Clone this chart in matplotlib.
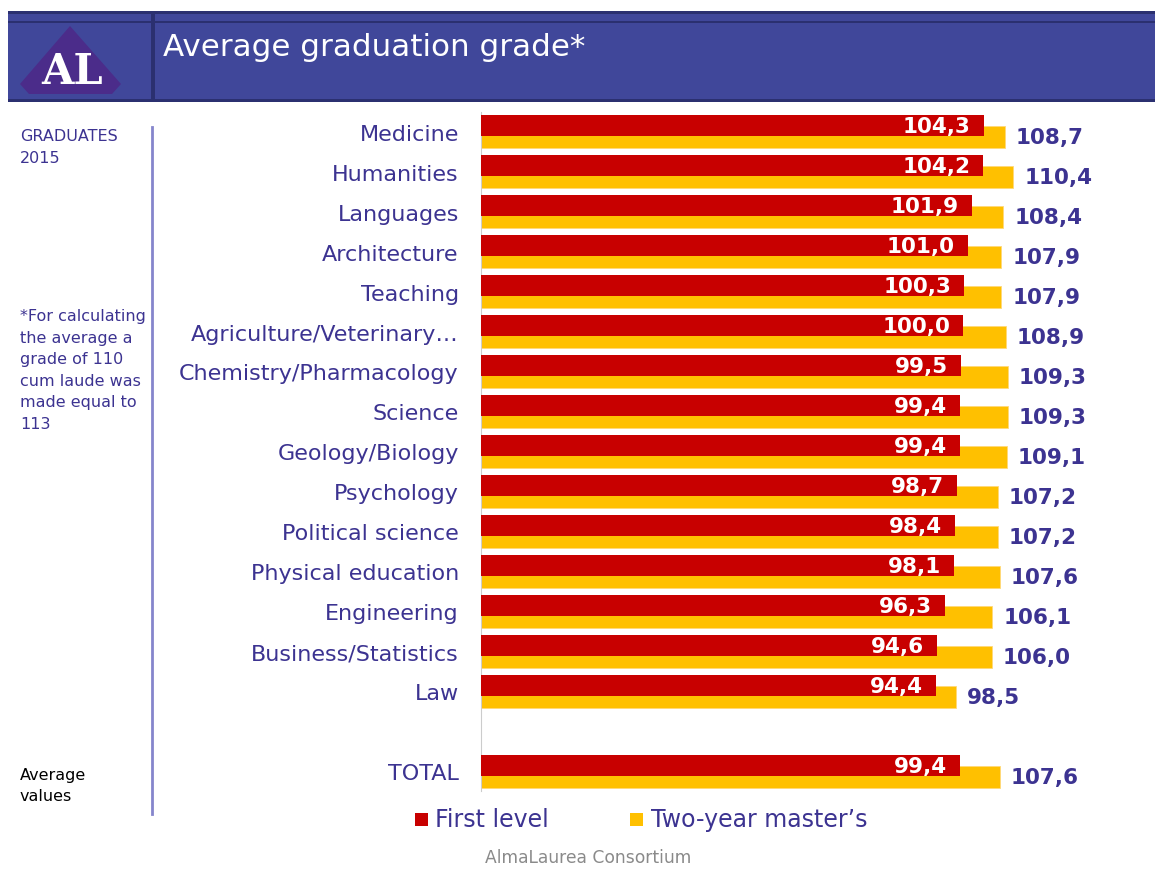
import numpy as np
import matplotlib
matplotlib.use("Agg")
import matplotlib.pyplot as plt
from matplotlib.patches import Rectangle, Polygon

# データ
categories = ["Medicine", "Humanities", "Languages", "Architecture", "Teaching",
              "Agriculture/Veterinary…", "Chemistry/Pharmacology", "Science",
              "Geology/Biology", "Psychology", "Political science",
              "Physical education", "Engineering", "Business/Statistics", "Law",
              "TOTAL"]
first_level = [104.3, 104.2, 101.9, 101.0, 100.3, 100.0, 99.5, 99.4, 99.4,
               98.7, 98.4, 98.1, 96.3, 94.6, 94.4, 99.4]
two_year = [108.7, 110.4, 108.4, 107.9, 107.9, 108.9, 109.3, 109.3, 109.1,
            107.2, 107.2, 107.6, 106.1, 106.0, 98.5, 107.6]
positions = list(range(15)) + [16]

RED = "#c80000"
YELLOW = "#ffc000"
NAVY = "#3c3391"
BAND = "#40479a"
DARK = "#2b3070"

W, H = 1155, 870
plt.rcParams["font.family"] = ["DejaVu Sans"]
fig = plt.figure(figsize=(W / 100, H / 100), dpi=100)


# ピクセル座標 -> figure座標
def px(x, y):
    return x / W, 1 - y / H


def rect_px(x0, y0, x1, y1, color):
    fig.patches.append(Rectangle((x0 / W, 1 - y1 / H), (x1 - x0) / W, (y1 - y0) / H,
                                 transform=fig.transFigure, color=color, lw=0, zorder=0))


# ヘッダー
rect_px(8, 12, W, 103, BAND)
rect_px(8, 12, W, 15, DARK)
rect_px(8, 22, W, 24, DARK)
rect_px(8, 100, W, 103, DARK)
rect_px(151, 15, 155, 100, DARK)
logo = [(70, 27), (20, 85), (29, 95), (112, 95), (121, 85)]
fig.patches.append(Polygon([px(x, y) for x, y in logo], closed=True,
                           transform=fig.transFigure, color="#4b2c8a", lw=0, zorder=1))
fig.text(*px(72, 72), "AL", color="white", fontsize=30, fontweight="bold",
         family="DejaVu Serif", ha="center", va="center")
fig.text(*px(163, 47), "Average graduation grade*", color="white", fontsize=22.3,
         ha="left", va="center")

# 左側の説明
fig.lines.append(plt.Line2D([152 / W, 152 / W], [1 - 128 / H, 1 - 815 / H],
                            transform=fig.transFigure, color="#8585cc", lw=2))
fig.text(*px(20, 129), "GRADUATES\n2015", color=NAVY, fontsize=11.5,
         ha="left", va="top", linespacing=1.55)
fig.text(*px(20, 309), "*For calculating\nthe average a\ngrade of 110\ncum laude was\nmade equal to\n113",
         color=NAVY, fontsize=11.5, ha="left", va="top", linespacing=1.55)
fig.text(*px(20, 768), "Average\nvalues", color="black", fontsize=11.5,
         ha="left", va="top", linespacing=1.5)

# 棒グラフ
ax_l, ax_r, ax_t, ax_b = 481, W, 113, 792
ax = fig.add_axes([ax_l / W, 1 - ax_b / H, (ax_r - ax_l) / W, (ax_b - ax_t) / H])
scale = 4.82  # px per unit
ax.set_xlim(0, (ax_r - ax_l) / scale)
ax.set_ylim((ax_b - 132.5) / 40, (ax_t - 132.5) / 40)

pos = np.array(positions)
ax.barh(pos + 0.135, two_year, height=0.55, color=YELLOW, edgecolor="#ffd978", lw=0.6, zorder=2)
ax.barh(pos - 0.15, first_level, height=0.52, color=RED, lw=0, zorder=3)

for p, v1, v2 in zip(positions, first_level, two_year):
    ax.text(v1 - 2.7, p - 0.14, f"{v1:.1f}".replace(".", ","), color="white",
            fontsize=15.5, fontweight="bold", ha="right", va="center", zorder=4)
    ax.text(v2 + 2.3, p + 0.14, f"{v2:.1f}".replace(".", ","), color=NAVY,
            fontsize=15.5, fontweight="bold", ha="left", va="center", zorder=4)

ax.set_yticks(positions)
ax.set_yticklabels(categories, color=NAVY, fontsize=16)
ax.tick_params(axis="y", length=0, pad=16)
ax.set_xticks([])
for s in ["top", "right", "bottom"]:
    ax.spines[s].set_visible(False)
ax.spines["left"].set_color("#cccccc")
ax.patch.set_alpha(0)

# 凡例
rect_px(415, 814, 428, 827, RED)
fig.text(*px(435, 820), "First level", color=NAVY, fontsize=17, ha="left", va="center")
rect_px(630, 814, 643, 827, YELLOW)
fig.text(*px(651, 820), "Two-year master’s", color=NAVY, fontsize=17, ha="left", va="center")

fig.text(*px(485, 858), "AlmaLaurea Consortium", color="#8a8a8a", fontsize=12.3,
         ha="left", va="center")

fig.savefig("out.png", dpi=100)
